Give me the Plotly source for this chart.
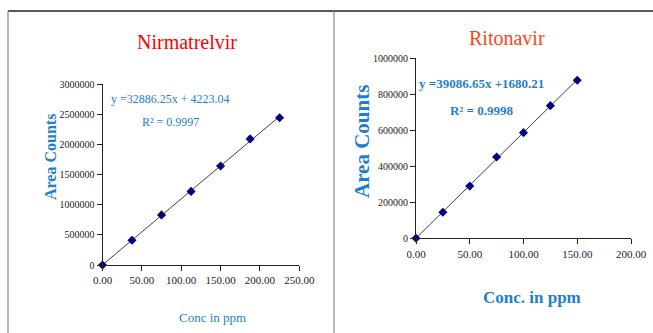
import numpy as np
import plotly.graph_objects as go

W, H = 653, 333

# ---- data ----
nir_conc = [0, 37.5, 75, 112.5, 150, 187.5, 225]
nir_area = [0, 410000, 830000, 1220000, 1640000, 2090000, 2440000]
rit_conc = [0, 25, 50, 75, 100, 125, 150]
rit_area = [0, 145000, 290000, 452000, 587000, 737000, 878000]

nir_title = "Nirmatrelvir"
rit_title = "Ritonavir"
nir_eq = "y =32886.25x + 4223.04"
nir_r2 = "R² = 0.9997"
rit_eq = "y =39086.65x +1680.21"
rit_r2 = "R² = 0.9998"

nir_xticks = [0, 50, 100, 150, 200, 250]
nir_yticks = [0, 500000, 1000000, 1500000, 2000000, 2500000, 3000000]
rit_xticks = [0, 50, 100, 150, 200]
rit_yticks = [0, 200000, 400000, 600000, 800000, 1000000]

SERIF = "Liberation Serif, Times New Roman, serif"
BLUE = "#1f7fcf"
NAVY = "#000080"


def px(x):
    return x / W


def py(y):
    return 1 - y / H


fig = go.Figure()


def add_series(xs, ys, xa, ya):
    m, b = np.polyfit(xs, ys, 1)
    x0, x1 = min(xs), max(xs)
    fig.add_trace(go.Scatter(x=[x0, x1], y=[m * x0 + b, m * x1 + b], mode="lines",
                             line=dict(color="#404040", width=1), xaxis=xa, yaxis=ya,
                             showlegend=False, hoverinfo="skip", cliponaxis=False))
    fig.add_trace(go.Scatter(x=xs, y=ys, mode="markers",
                             marker=dict(symbol="diamond", size=7, color=NAVY),
                             xaxis=xa, yaxis=ya, showlegend=False, cliponaxis=False))


add_series(nir_conc, nir_area, "x", "y")
add_series(rit_conc, rit_area, "x2", "y2")

axis_common = dict(showline=True, linecolor="#222222", linewidth=1, ticks="outside",
                   ticklen=5, tickcolor="#222222", showgrid=False, zeroline=False,
                   automargin=False,
                   tickfont=dict(family=SERIF, size=11, color="#222222"))

fig.update_layout(
    width=W, height=H, margin=dict(l=0, r=0, t=0, b=0, pad=0, autoexpand=False),
    paper_bgcolor="white", plot_bgcolor="white", showlegend=False,
    xaxis=dict(domain=[px(102.5), px(299.3)], range=[0, 250], anchor="y",
               tickvals=nir_xticks, ticktext=[f"{v:.2f}" for v in nir_xticks],
               **axis_common),
    yaxis=dict(domain=[py(265), py(84)], range=[0, 3000000], anchor="x",
               tickvals=nir_yticks, ticktext=[str(v) for v in nir_yticks],
               **axis_common),
    xaxis2=dict(domain=[px(416), px(631)], range=[0, 200], anchor="y2",
                tickvals=rit_xticks, ticktext=[f"{v:.2f}" for v in rit_xticks],
                **axis_common),
    yaxis2=dict(domain=[py(238.3), py(58.3)], range=[0, 1000000], anchor="x2",
                tickvals=rit_yticks, ticktext=[str(v) for v in rit_yticks],
                **axis_common),
)
fig.update_yaxes(tickfont_size=10)

ann = []


def text(x, y, s, size, color, bold=False, angle=0):
    if bold:
        s = f"<b>{s}</b>"
    ann.append(dict(x=px(x), y=py(y), xref="paper", yref="paper", text=s, showarrow=False,
                    xanchor="center", yanchor="middle", textangle=angle,
                    font=dict(family=SERIF, size=size, color=color)))


# left panel
text(187, 42, nir_title, 20, "#ff0000")
text(170, 99, nir_eq, 12, BLUE)
text(170, 122, nir_r2, 12, BLUE)
text(212, 317, "Conc in ppm", 13, BLUE)
text(51, 157, "Area Counts", 16, BLUE, bold=True, angle=-90)

# right panel
text(507, 38, rit_title, 20, "#ff4422")
text(481, 83, rit_eq, 13, BLUE, bold=True)
text(481, 110, rit_r2, 13, BLUE, bold=True)
text(532, 297, "Conc. in ppm", 17, BLUE, bold=True)
text(362, 142, "Area Counts", 21, BLUE, bold=True, angle=-90)

fig.update_layout(annotations=ann)

shapes = [
    dict(type="line", xref="paper", yref="paper", x0=px(8), x1=1, y0=py(11), y1=py(11),
         line=dict(color="#222222", width=1.5)),
    dict(type="line", xref="paper", yref="paper", x0=px(8), x1=px(8), y0=py(11), y1=0,
         line=dict(color="#888888", width=1.2)),
    dict(type="line", xref="paper", yref="paper", x0=px(334), x1=px(334), y0=py(11), y1=0,
         line=dict(color="#888888", width=1.2)),
]
fig.update_layout(shapes=shapes)

fig.write_html("out.html", config={"displayModeBar": False},
               post_script="document.body.style.margin='0';document.body.style.overflow='hidden';")
